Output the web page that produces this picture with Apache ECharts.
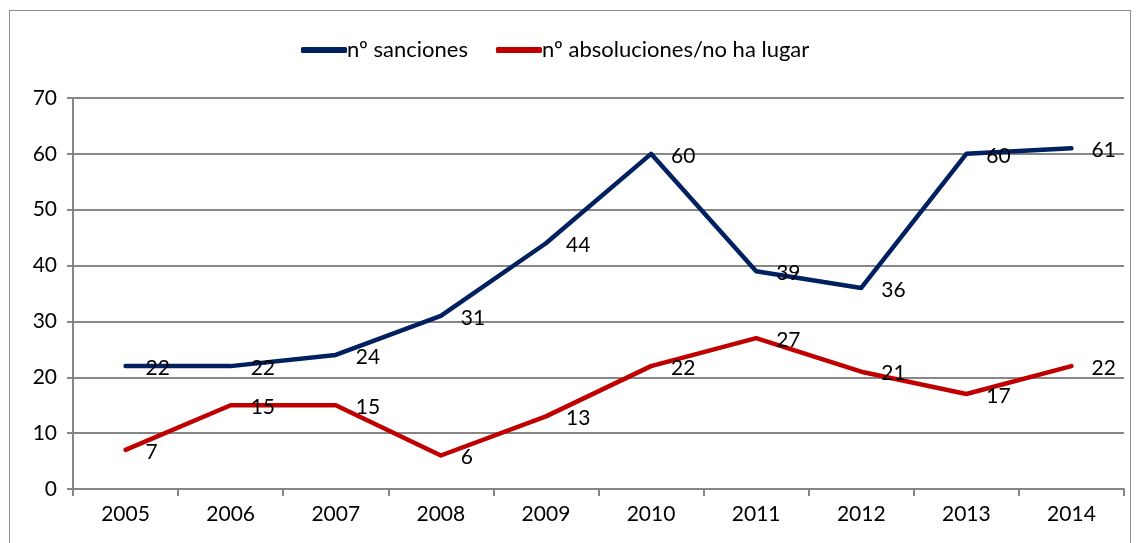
<!DOCTYPE html>
<html>
<head>
<meta charset="utf-8">
<script src="https://cdn.jsdelivr.net/npm/echarts@6/dist/echarts.min.js"></script>
<style>
  html, body { margin: 0; padding: 0; background: #fff; }
  #frame { position: absolute; left: 9px; top: 10px; width: 1122px; height: 540px; border: 1px solid #8c8c8c; box-sizing: border-box; }
  #main { position: absolute; left: 0; top: 0; width: 1138px; height: 543px; }
</style>
</head>
<body>
<div id="frame"></div>
<div id="main"></div>
<script>
  var years = ['2005', '2006', '2007', '2008', '2009', '2010', '2011', '2012', '2013', '2014'];
  var sanciones = [22, 22, 24, 31, 44, 60, 39, 36, 60, 61];
  var absoluciones = [7, 15, 15, 6, 13, 22, 27, 21, 17, 22];

  var font = 'Lato, "Open Sans", sans-serif';
  var chart = echarts.init(document.getElementById('main'));

  function lineSeries(name, data, color) {
    return {
      name: name,
      type: 'line',
      data: data,
      symbol: 'circle',
      symbolSize: 0,
      showSymbol: true,
      lineStyle: { color: color, width: 4.5, cap: 'round', join: 'round' },
      itemStyle: { color: color },
      label: {
        show: true,
        position: 'right',
        distance: 20,
        offset: [0, 2],
        color: '#000',
        fontSize: 21,
        fontFamily: font
      },
      z: 3
    };
  }

  chart.setOption({
    animation: false,
    legend: {
      top: 34,
      left: 296,
      itemWidth: 46,
      itemHeight: 6,
      itemGap: 28,
      textStyle: { fontSize: 22, fontFamily: font, color: '#000', padding: [0, 0, 0, -5] },
      data: [
        { name: 'nº sanciones', icon: 'roundRect' },
        { name: 'nº absoluciones/no ha lugar', icon: 'roundRect' }
      ]
    },
    grid: { left: 73, right: 14, top: 98, bottom: 54 },
    xAxis: {
      type: 'category',
      data: years,
      boundaryGap: true,
      axisLine: { lineStyle: { color: '#868686', width: 2 } },
      axisTick: { show: true, length: 7, lineStyle: { color: '#868686', width: 2 } },
      axisLabel: { color: '#000', fontSize: 21, fontFamily: font, margin: 15 }
    },
    yAxis: {
      type: 'value',
      min: 0,
      max: 70,
      interval: 10,
      axisLine: { show: true, lineStyle: { color: '#868686', width: 2 } },
      axisTick: { show: true, length: 6, lineStyle: { color: '#868686', width: 2 } },
      splitLine: { lineStyle: { color: '#868686', width: 2 } },
      axisLabel: { color: '#000', fontSize: 21, fontFamily: font, margin: 16 }
    },
    series: [
      lineSeries('nº sanciones', sanciones, '#002060'),
      lineSeries('nº absoluciones/no ha lugar', absoluciones, '#C00000')
    ]
  });
</script>
</body>
</html>
